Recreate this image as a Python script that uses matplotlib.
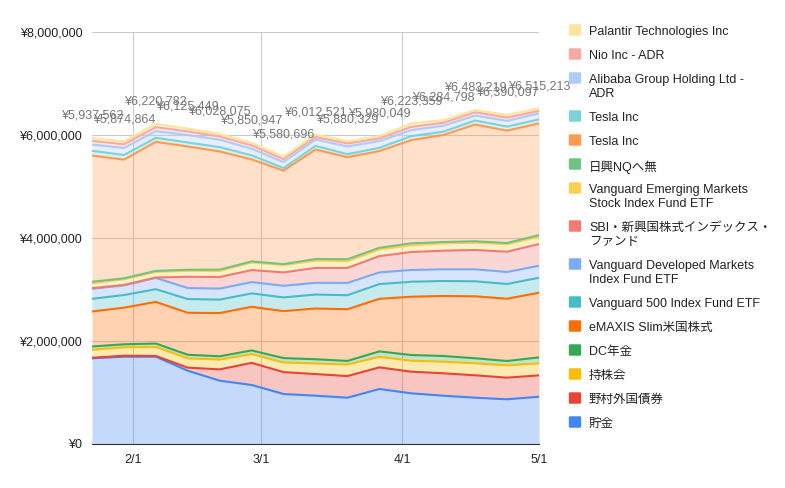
import matplotlib
matplotlib.use("Agg")
from matplotlib import pyplot as plt
from matplotlib.patches import FancyBboxPatch
import matplotlib.dates as mdates
import numpy as np
import datetime as dt

plt.rcParams['font.family'] = ['Liberation Sans', 'Noto Sans CJK JP', 'DejaVu Sans']

dates = ["2021-01-23", "2021-01-30", "2021-02-06", "2021-02-13", "2021-02-20", "2021-02-27",
         "2021-03-06", "2021-03-13", "2021-03-20", "2021-03-27", "2021-04-03", "2021-04-10",
         "2021-04-17", "2021-04-24", "2021-05-01"]

# stacked from the bottom up
chokin = [1664000, 1695000, 1695000, 1423000, 1229000, 1146000, 971000, 938000, 899000, 1068000, 984000, 938000, 899000, 868000, 918000]
nomura = [10000, 20000, 15000, 60000, 220000, 430000, 425000, 420000, 420000, 420000, 420000, 435000, 435000, 420000, 415000]
mochikabu = [155000, 163000, 175000, 180000, 190000, 170000, 188000, 205000, 225000, 205000, 213000, 225000, 233000, 240000, 233000]
dc_nenkin = [64000, 58000, 66000, 70000, 64000, 71000, 84000, 83000, 69000, 105000, 111000, 111000, 97000, 84000, 116000]
emaxis = [680000, 711000, 808000, 815000, 840000, 847000, 912000, 985000, 1004000, 1021000, 1132000, 1165000, 1204000, 1209000, 1255000]
voo = [246000, 246000, 247000, 266000, 261000, 260000, 266000, 271000, 272000, 286000, 291000, 291000, 291000, 286000, 291000]
vea = [195000, 188000, 219000, 214000, 213000, 220000, 226000, 228000, 239000, 227000, 228000, 227000, 233000, 233000, 233000]
sbi_em = [13000, 6000, 8000, 219000, 225000, 233000, 260000, 289000, 291000, 316000, 349000, 361000, 375000, 394000, 421000]
vwo = [97000, 111000, 109000, 117000, 117000, 149000, 142000, 140000, 130000, 130000, 130000, 144000, 142000, 144000, 142000]
nikko_nq = [26000, 19000, 19000, 19000, 27000, 19000, 19000, 33000, 39000, 32000, 39000, 25000, 27000, 25000, 33000]
tesla_a = [2452000, 2304000, 2506000, 2394000, 2295000, 1982000, 1815000, 2126000, 1982000, 1877000, 2004000, 2077000, 2268000, 2182000, 2168000]
tesla_b = [91000, 91000, 78000, 78000, 83000, 78000, 50000, 70000, 58000, 64000, 78000, 64000, 78000, 78000, 78000]
alibaba = [122000, 136000, 130000, 144000, 144000, 128000, 116000, 124000, 150000, 130000, 116000, 116000, 97000, 111000, 116000]
nio = [72000, 72000, 78000, 70000, 64000, 66000, 58000, 50000, 58000, 52000, 64000, 58000, 64000, 64000, 50000]
palantir = [54000, 55000, 64000, 55000, 50000, 50000, 47000, 47000, 40000, 45000, 64000, 52000, 40000, 52000, 50000]

totals = [5937562, 5874864, 6220782, 6125449, 6028075, 5850947, 5580696, 6012521, 5880329,
          5980049, 6223359, 6284798, 6483219, 6390097, 6515213]

names = ["貯金", "野村外国債券", "持株会", "DC年金", "eMAXIS Slim米国株式",
         "Vanguard 500 Index Fund ETF", "Vanguard Developed Markets\nIndex Fund ETF",
         "SBI・新興国株式インデックス・\nファンド", "Vanguard Emerging Markets\nStock Index Fund ETF",
         "日興NQへ無", "Tesla Inc", "Tesla Inc", "Alibaba Group Holding Ltd -\nADR",
         "Nio Inc - ADR", "Palantir Technologies Inc"]
series = [chokin, nomura, mochikabu, dc_nenkin, emaxis, voo, vea, sbi_em, vwo, nikko_nq,
          tesla_a, tesla_b, alibaba, nio, palantir]
colors = ["#4285F4", "#EA4335", "#FBBC04", "#34A853", "#FF6D01", "#46BDC6", "#7BAAF7",
          "#F07B72", "#FCD04F", "#71C287", "#FF994D", "#7ED1D7", "#AECBFA", "#F7AAA5", "#FDE49B"]

x = [dt.datetime.strptime(d, "%Y-%m-%d") for d in dates]

fig = plt.figure(figsize=(7.85, 4.88), dpi=100)
ax = fig.add_axes([92/785, 1-444/488, (539-92)/785, (444-32)/488])

base = np.zeros(len(x))
for s, c in zip(series, colors):
    top = base + np.array(s)
    ax.fill_between(x, base, top, color=c, alpha=0.3, linewidth=0, zorder=2)
    ax.plot(x, top, color=c, lw=1.5, solid_joinstyle='round', zorder=3)
    base = top

for xi, yi, t in zip(x, base, totals):
    ax.annotate(f"¥{t:,}", (xi, yi), xytext=(0, 16), textcoords='offset points',
                ha='center', va='center', fontsize=9, color='#757575', annotation_clip=False, zorder=5)

ax.set_xlim(x[0], x[-1])
ax.set_ylim(0, 8000000)
ax.set_yticks([0, 2000000, 4000000, 6000000, 8000000])
ax.yaxis.set_major_formatter(matplotlib.ticker.FuncFormatter(lambda v, p: f"¥{int(v):,}"))
ax.xaxis.set_major_locator(mdates.MonthLocator(bymonthday=1))
ax.xaxis.set_major_formatter(matplotlib.ticker.FuncFormatter(
    lambda v, p: f"{mdates.num2date(v).month}/{mdates.num2date(v).day}"))
ax.grid(True, color='#cccccc', lw=0.8, zorder=0)
ax.set_axisbelow(True)
for sp in ['top', 'right', 'left']:
    ax.spines[sp].set_visible(False)
ax.spines['bottom'].set_color('#333333')
ax.tick_params(length=0, labelsize=9, colors='#222222', pad=7)

# legend, drawn by hand on the right
y = 30
for name, c in reversed(list(zip(names, colors))):
    fig.patches.append(FancyBboxPatch((570/785, 1-(y+5)/488), 10/785, 10/488,
                                      boxstyle="round,pad=0.0015,rounding_size=0.002",
                                      transform=fig.transFigure, facecolor=c, edgecolor='none'))
    fig.text(589/785, 1-(y-4)/488, name, fontsize=9, color='#222222', va='top', ha='left',
             linespacing=1.2, transform=fig.transFigure)
    y += 24 + 14*(name.count("\n"))

fig.savefig("out.png", dpi=100)
